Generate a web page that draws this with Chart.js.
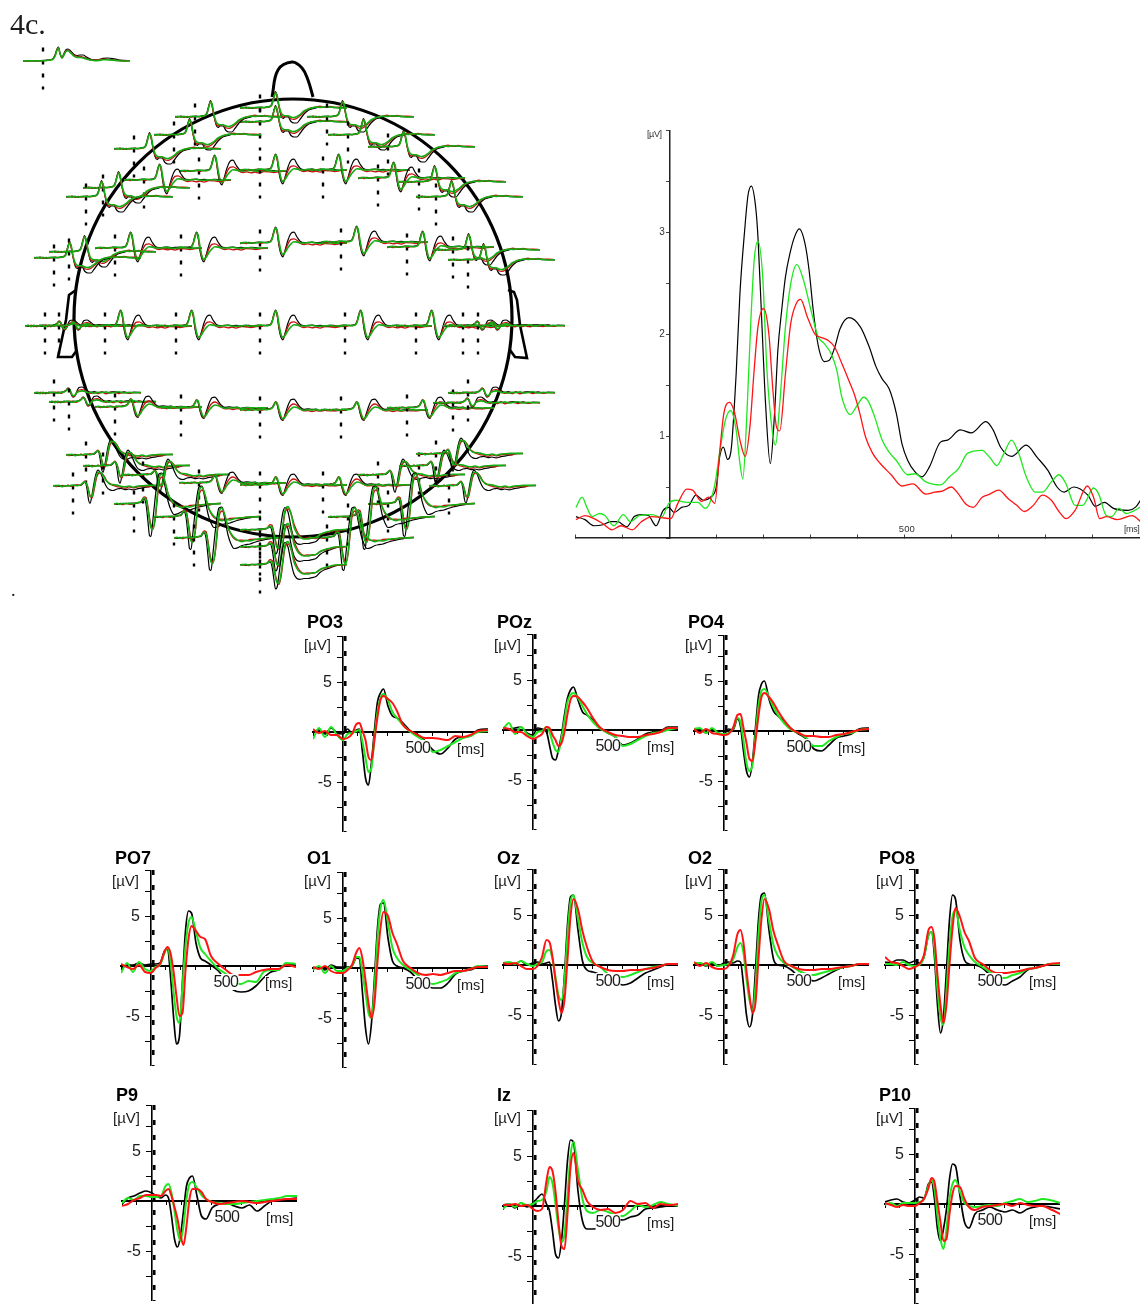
<!DOCTYPE html>
<html>
<head>
<meta charset="utf-8">
<title>4c</title>
<script src="https://cdn.jsdelivr.net/npm/chart.js@4/dist/chart.umd.min.js"></script>
<style>
html, body { margin: 0; padding: 0; background: #fff; }
#page { position: relative; width: 1140px; height: 1304px; overflow: hidden; font-family: "Liberation Sans", Arial, sans-serif; color: #1c1c1c; }
canvas { position: absolute; }
.txt { position: absolute; white-space: nowrap; line-height: 1; }
</style>
</head>
<body>
<div id="page"></div>
<script>
const bigBlackT = [-198,-179,-160,-141,-125,-110,-91,-75,-60,-45,-29,-14,-2,9,25,40,55,71,86,98,105,113,122,130,140,148,158,165,172,181,186,194,202,212,221,228,236,244,254,263,273,286,294,302,309,317,326,336,348,359,378,402,421,435,448,463,478,490,502,517,532,548,571,586,613,636,667,682,698,721,752,775,798,817,832,852,882,898,917,936,967,982,996];
const bigBlackV = [.21,.18,.12,.13,.16,.16,.11,.21,.23,.22,.12,.27,.30,.25,.30,.32,.42,.37,.40,.50,.79,.89,.77,.89,1.61,2.40,3.02,3.36,3.45,3.25,2.95,2.13,1.32,.73,1.22,1.84,2.23,2.56,2.80,2.95,3.03,2.87,2.62,2.26,2.00,1.81,1.73,1.74,1.87,2.05,2.16,2.07,1.87,1.68,1.56,1.46,1.22,.92,.76,.65,.60,.70,.94,.96,1.06,1.03,1.14,1.06,.89,.80,.91,.79,.66,.50,.45,.50,.42,.31,.35,.29,.27,.30,.39];
const bigGreenT = [-198,-185,-175,-164,-148,-137,-118,-98,-83,-64,-37,-18,-2,13,36,59,75,94,105,117,128,140,148,154,162,171,178,186,196,205,217,223,232,244,255,268,282,298,313,325,340,352,363,381,394,409,419,432,448,463,478,502,517,540,571,590,609,628,659,675,690,705,721,736,752,771,786,805,821,836,855,871,894,905,921,932,948,963,996];
const bigGreenV = [.30,.40,.30,.21,.24,.22,.12,.23,.16,.22,.23,.20,.34,.37,.35,.35,.29,.50,.83,1.15,1.25,1.06,.73,.58,1.15,2.13,2.72,2.91,2.56,1.64,1.02,.91,1.32,2.07,2.49,2.68,2.53,2.23,1.97,1.91,1.81,1.65,1.38,1.21,1.29,1.38,1.34,1.19,.96,.84,.76,.62,.63,.55,.52,.60,.68,.83,.86,.79,.71,.83,.96,.83,.60,.45,.45,.55,.62,.53,.32,.32,.49,.43,.22,.21,.29,.24,.31];
const bigRedT = [-198,-179,-160,-141,-122,-103,-79,-60,-37,-18,2,17,36,48,67,82,95,105,114,126,136,148,159,169,178,186,198,209,217,225,232,244,255,267,276,290,306,317,333,348,363,379,390,401,413,428,444,467,490,513,540,559,575,594,606,625,640,659,675,694,713,732,748,767,786,805,821,836,855,881,894,907,921,944,975,996];
const bigRedV = [.18,.22,.19,.14,.08,.12,.08,.16,.21,.20,.19,.34,.48,.47,.36,.40,.34,.83,1.22,1.33,1.24,.96,.80,1.09,1.65,2.07,2.25,2.00,1.48,1.09,1.05,1.61,2.10,2.30,2.34,2.17,2.00,1.97,1.94,1.87,1.71,1.53,1.40,1.22,.99,.83,.73,.62,.51,.53,.43,.45,.46,.50,.45,.33,.30,.40,.43,.47,.39,.32,.26,.32,.42,.37,.26,.19,.27,.51,.40,.19,.21,.18,.22,.15];
const bigYLabels = [1, 2, 3];

// single channel panels, all share one time base
const panelTimes = [-200,-160,-120,-80,-40,0,30,60,90,110,130,150,170,190,210,230,250,270,300,330,360,400,450,500,550,600,650,700,750,800,850,900,970];
const panelYLabels = [5, -5];
const po3Black = [0,.2,-.2,.4,-.1,-.2,.3,-.1,.2,.3,-2,-4.6,-5.3,-3,.2,3,3.9,4.3,2.6,1.6,1.4,.9,.1,-.3,-.9,-1.8,-2.2,-1.6,-.7,-.5,-.4,.2,.3];
const po3Green = [-.7,.4,-.5,.5,-.3,-.8,-.2,-.1,.1,.2,-1,-2.6,-4,-3.6,-.5,2,3.4,3.8,3.2,2,1.4,.7,0,-.5,-1,-2,-1.8,-1.4,-1,-.6,-.4,0,.1];
const po3Red = [.3,-.1,.1,-.3,-.3,-.7,-.6,-.2,.8,.9,.1,-.8,-2.5,-2.8,-.8,1.5,3.2,3.6,3.3,2.9,2.1,.7,.1,-.3,-.6,-.6,-.7,-.8,-.4,-.5,-.3,.1,.2];
const pozBlack = [.2,.1,.2,.3,-.3,-.5,.2,.1,-.2,-1.5,-2.8,-3,-2,-.5,1.5,3.2,4,4.3,3,1.8,1.5,1,.2,-.3,-.7,-1.5,-1.3,-.9,-.4,-.2,-.1,.3,.3];
const pozGreen = [.1,.7,-.4,.3,-.4,-.7,-.2,-.1,.3,-.2,-1.2,-2,-2.2,-.8,1,2.8,3.5,3.7,3.2,2.4,1.6,.8,.1,-.3,-.7,-1.6,-1.4,-1,-.6,-.3,-.2,0,.2];
const pozRed = [.2,.1,-.2,-.2,-.6,-.9,-.7,-.4,.3,.2,-.5,-1,-1.6,-1.3,-.2,1.6,3,3.4,3.3,2.8,2.2,1.2,.2,-.2,-.5,-.6,-.7,-.7,-.5,-.4,-.2,.2,.2];
const po4Black = [.1,.2,-.2,.2,-.2,-.3,.2,.1,1.2,.5,-2,-4,-4.6,-3,.3,3.5,4.7,5,3.2,2,1.5,1,.2,-.3,-.8,-1.8,-2,-1.4,-.7,-.5,-.3,.2,.3];
const po4Green = [.2,.3,-.2,.3,-.2,-.3,-.2,.2,1.3,.9,-1,-3.2,-4,-3.4,-.4,2.5,4,4.2,3.4,2.4,1.6,.8,.1,-.2,-.7,-1.5,-1.5,-1,-.6,-.3,-.2,.1,.2];
const po4Red = [.2,-.2,.2,-.2,-.3,-.4,-.3,.3,1.6,1.7,.3,-1.2,-2.8,-3,-1,1.5,3.4,3.8,3.4,2.8,2,1.1,.2,-.2,-.5,-.5,-.6,-.6,-.4,-.3,-.1,.1,.2];
const po7Black = [-.3,.1,.1,.3,.1,.2,.2,.3,1.5,1.8,-1,-5,-7.8,-7,-1.5,3.5,5.5,5.3,2.3,.8,.5,.1,-.5,-1.5,-2.4,-2.6,-2.5,-2,-1.2,-.6,-.4,.1,.2];
const po7Green = [-.7,.3,-.6,.4,-.3,-.5,-.1,.1,1.3,1.8,.5,-2.5,-5,-5.7,-2,2,4.3,4.9,3.4,1.8,1.2,.5,-.3,-.8,-1.7,-1.8,-1.5,-1.6,-.6,-.4,-.4,.3,.2];
const po7Red = [.2,-.1,-.3,.1,-.6,-.7,-.2,.2,1.4,1.9,1.3,-.5,-3,-5,-4.7,-.5,2.7,4,3.5,2.9,2.7,1,.2,-.4,-.9,-.9,-.9,-.6,-.4,-.3,-.3,.1,-.1];
const o1Black = [0,.1,-.2,.3,.1,.1,.1,.2,1,.9,-2.5,-6,-7.6,-5.5,-1,4,6.4,6.5,3,.7,.2,0,-.4,-1.2,-1.7,-2,-2,-1.5,-.6,-.3,-.2,.1,.2];
const o1Green = [-.2,.2,-.5,.2,-.3,-.3,0,.2,1.1,1.1,-.5,-2.5,-4.5,-5,-2,3,6,6.8,4.5,2,1,.3,-.2,-.7,-1.4,-1.6,-1.4,-1.1,-.5,-.3,-.1,.2,.1];
const o1Red = [.1,-.1,.2,-.3,-.5,-.5,-.2,.3,1.6,2,.9,-1.2,-3.5,-5,-3.5,.6,4,5.6,5.2,3.5,2.4,.7,0,-.5,-.7,-.6,-.7,-.5,-.3,-.3,-.1,.1,.1];
const ozBlack = [.1,.1,.1,.4,0,.2,.3,.1,.2,.3,-1.5,-4,-5.6,-4.8,-1,4,6.8,7,3.5,.4,-.5,-.7,-1,-2,-1.8,-2,-1.8,-1.3,-.8,-.5,-.2,.1,.1];
const ozGreen = [.2,.3,.1,.4,.1,-.1,.1,.3,1.4,1.5,.6,-1.2,-3,-3.5,-1.6,3,6.3,7,4.6,2.2,.8,.2,-.2,-.9,-1.1,-1.2,-1,-.7,-.4,-.2,-.1,.1,.1];
const ozRed = [.2,.1,.2,-.1,-.4,-.4,-.1,.8,2.5,2.3,.8,-1.5,-3.5,-4.8,-3.5,.5,4.8,6.6,5.6,3.4,1.8,.3,-.2,-.5,-.6,-.6,-.5,-.5,-.4,-.3,-.1,.1,.1];
const o2Black = [.1,.2,-.1,.2,-.1,.2,.3,.2,.4,.3,-2,-5,-6.2,-5,-.5,4.5,7,7.2,3.5,.6,0,-.1,-.5,-1.2,-1.4,-1.6,-1.3,-.9,-.5,-.2,-.1,.1,.1];
const o2Green = [.2,.2,0,.3,-.1,0,.1,.5,1.8,2.2,1.2,-1.4,-3.5,-4.5,-2,3,6.4,7,4.4,2,.9,.2,-.1,-.6,-.9,-1,-.8,-.6,-.4,-.2,-.1,.1,.1];
const o2Red = [.3,-.1,.2,-.2,-.4,-.4,-.1,.9,3.1,3.5,2.2,-.6,-3,-4.8,-3.8,.6,4.6,6.6,5.6,3.4,2,.4,-.1,-.4,-.5,-.5,-.4,-.4,-.3,-.2,-.1,.1,.1];
const po8Black = [.3,.2,.5,.5,.2,.4,.2,.8,3,3.3,.8,-4,-6.8,-5.2,-.5,4.5,7,6.6,2.5,.5,.1,0,-.3,-1,-1.8,-2,-1.6,-1.2,-.5,-.3,-.1,.1,.1];
const po8Green = [.1,.1,0,.3,0,-.1,0,.8,3,3.3,1.6,-2.5,-5.2,-6,-2.5,2,4.8,5.5,3.4,1.8,1,.3,-.2,-.7,-1.2,-1.3,-1,-.8,-.4,-.3,-.1,.1,.1];
const po8Red = [.8,.3,.2,-.1,-.4,-.2,.1,1,3.5,3.8,2.6,-1,-4,-5.8,-4,0,3.6,5.7,4.8,3.3,2.4,.7,.1,-.5,-.8,-.8,-.7,-.6,-.4,-.3,-.1,.1,.2];
const p9Black = [-.3,.3,.5,.8,1,.8,.5,.3,.6,.3,-1.5,-3.8,-4.6,-3.5,-1,1.5,2.3,2.5,.5,-1.5,-1.8,-.7,-.3,-.2,-.5,-.7,-.4,-1,-.5,0,.1,.2,.3];
const p9Green = [-.2,.3,.1,.5,.5,.4,.4,.5,1.5,1.7,.8,-1,-3,-4,-2.5,.2,1.7,1.9,1.3,.6,.2,-.1,-.2,-.3,-.3,-.2,-.1,0,.1,.2,.3,.5,.5];
const p9Red = [-.5,-.3,.1,.3,.6,.6,.6,.5,1,1.2,.5,-.6,-1.8,-3.4,-4.4,-2.5,.2,1.2,1.2,.9,.2,-.1,-.3,-.2,-.1,0,-.1,-.2,-.1,0,.1,.2,.2];
const izBlack = [.1,.2,-.2,.3,-.1,.3,.8,1.2,.2,-.5,-2.5,-4.8,-5.2,-3.5,.2,4.5,6.6,6.4,1.5,-1.5,-2.3,-2.3,-2.2,-1.8,-1.3,-1.4,-1.1,-.9,-.3,-.2,-.1,0,.1];
const izGreen = [-.3,.2,-.1,.3,.1,.2,.5,.6,1.5,2.9,2.3,.2,-2.2,-3.6,-2.8,1,5,6.4,3.6,.7,-.5,-.7,-.4,-.6,-.9,-1,-.5,.1,-.1,.1,.4,.2,0];
const izRed = [.1,.1,.2,0,.1,-.3,-.5,-.3,2.5,3.9,3.5,1.5,-1.6,-4,-4.3,-.8,3.8,5.3,2.5,1.6,.5,-.1,-.4,-.3,-.7,-.4,.5,.2,.3,-.2,.2,.1,.2];
const p10Black = [.2,.4,.5,.2,.1,.4,.7,.6,2,2.2,.5,-2.5,-3.7,-2.5,-.5,2.5,4,3.8,.8,-1.8,-2.4,-1,-.6,-.3,-.6,-.8,-.6,-.9,-.5,-.3,-.2,-.3,-.5];
const p10Green = [-.1,.1,-.2,.1,.1,.1,.2,.5,1.8,2.4,1.5,-1.2,-3.5,-4.5,-2.5,.5,2,2.4,1.2,.1,-.2,-.3,-.2,-.1,-.2,.1,.3,.5,.2,.3,.5,.4,.1];
const p10Red = [.1,-.1,-.3,-.1,-.2,-.2,.1,.5,1.6,2.6,2.2,.2,-1.8,-3.7,-3.5,-1,1,1.8,1.7,.5,-.3,-.6,-.3,-.2,-.1,0,-.2,.1,-.1,-.2,-.2,-.5,-1];

// head map: one representative shape per scalp region
const miniTimes = [-200,-170,-140,-110,-80,-50,-20,10,40,70,100,120,140,155,170,190,210,230,250,280,310,340,370,400,440,480,520,560,600,650,700,750,800,870];
const eogBlack = [.1,0,.1,0,.1,0,.1,.2,.3,.4,.8,2,4,4.6,2.5,1.2,2.5,3.8,4,3.2,2.2,1.8,2,2,1.2,.6,.4,.4,.9,1,.8,.4,.2,.1];
const eogGreen = [0,.1,0,.1,0,.1,0,.1,.2,.3,.6,1.6,3.6,4.4,2.6,1,2,3.2,3.4,2.6,1.6,1.2,1.2,1,.6,.3,.1,.2,.4,.4,.3,.1,0,0];
const eogRed = [.1,0,0,.1,0,0,.1,.1,.2,.4,.7,1.8,3.8,4.4,2.4,1,2.2,3.4,3.6,2.8,2,1.5,1.5,1.3,.8,.4,.3,.5,.6,.5,.4,.2,0,.1];
const frontBlack = [.2,0,.3,.1,-.1,.2,.1,.3,.1,.4,.6,1.5,4,5.5,4,.5,-2.5,-3.5,-3,-3,-4.5,-5,-5,-3.8,-2,-.8,-.3,0,.4,.2,.3,.1,.1,0];
const frontGreen = [0,.2,-.1,.2,0,.1,.3,.1,.2,.3,.5,1.2,3.6,5,4.4,.8,-1.5,-2.4,-2.6,-2.6,-3,-3.2,-2.8,-2.2,-1,-.3,0,.3,.2,.4,.3,.2,0,.1];
const frontRed = [-.1,.1,.2,-.1,.2,0,.1,.2,.1,.2,.4,1.2,3.8,5.2,3.8,.2,-2.2,-3,-2.8,-2.6,-3.6,-3.8,-3.4,-2.6,-1.4,-.5,.1,.3,.6,.2,.5,.2,.3,.1];
const centBlack = [-.2,0,.1,.2,-.1,.1,.3,.2,.1,.3,.5,1.5,4,5.3,4,-1,-3.8,-4.6,-2.5,1,3.2,3.6,2,.6,.1,.2,.3,.1,.2,0,.2,.1,-.1,.1];
const centGreen = [0,.1,.2,-.1,.1,0,.2,.3,.2,.1,.3,1.2,3.6,5,4.4,.5,-2.8,-3.8,-3.2,-1.5,-.3,.4,.3,.1,0,.1,.2,0,-.1,.1,.1,-.1,0,.1];
const centRed = [-.1,.2,-.2,.1,-.1,.2,.1,-.1,.2,.1,.4,1.4,4,5,3.6,-.2,-3,-4,-2.8,-.2,1.2,1.4,.9,-.1,-.5,-.3,-.6,-.4,-.7,-.2,-.3,-.5,-.2,-.1];
const edgeBlack = [.2,-.1,.2,.1,-.2,.3,.1,-.1,.3,.1,.5,.9,1.6,1.3,-.3,-1.4,-1,.7,1.8,2,1.4,.6,.2,.5,.1,.4,-.1,.3,.5,.1,.4,0,.3,.1];
const edgeGreen = [0,.2,-.2,.2,0,.1,.3,.1,-.1,.3,.3,.7,1.3,1.2,.2,-.9,-.7,.2,.5,.7,.5,.1,.3,-.1,.2,.1,.4,0,.2,.4,0,.2,.1,.2];
const edgeRed = [-.1,.2,.1,-.2,.2,-.1,.1,.3,.1,-.1,.4,.8,1.5,1.3,0,-1.2,-.9,.4,1,1.1,.8,.2,-.1,.2,-.2,.3,-.3,.1,.2,-.2,.2,-.1,.1,0];
const parBlack = [.2,.1,-.1,.2,0,.3,.1,.2,.1,.3,.5,.8,1.8,2.6,2,-1,-3,-3.5,-1.5,1.5,3.4,3.6,2.4,1,.2,.4,.2,.3,-.1,.2,.1,-.2,0,.1];
const parGreen = [0,.2,.1,-.1,.2,.1,0,.2,.3,.1,.3,.6,1.6,2.6,2.4,.2,-2,-3,-2.4,-.8,.4,1,.8,.3,-.1,.1,0,.2,-.2,.1,.1,0,.1,0];
const parRed = [-.1,.1,-.2,.2,-.1,.1,.2,-.1,.2,.2,.4,.7,1.8,2.8,2.2,-.4,-2.4,-3.2,-2,.2,1.6,2,1.5,.4,-.3,-.2,-.5,-.2,-.4,-.1,-.3,-.3,-.1,0];
const latBlack = [.1,.2,-.1,.2,0,.2,.1,.2,.3,.2,.8,1.5,-1,-4.5,-5.8,-3,1,4,5.3,4,1.5,-.5,-1.3,-1.5,-1,-.8,-1.2,-1,-1.3,-.9,-.6,-.3,.1,.1];
const latGreen = [0,.1,.2,-.2,.1,0,.2,.3,.1,.3,1,1.4,.3,-1.6,-3.5,-3.4,-.5,3,4.6,4.4,3,1.5,.6,.5,.3,-.1,-.3,0,-.4,0,.1,.2,.2,.2];
const latRed = [.2,-.2,.1,.1,-.1,.3,-.1,.1,.4,.2,1,1.6,.5,-1.2,-3.2,-4,-1.5,2,4,4.4,3.4,1.6,.8,.2,-.2,-.4,-.8,-.3,-.6,-.3,-.1,-.3,.1,.2];
const occBlack = [.1,-.1,.2,.1,.2,.1,.3,.2,.4,.5,1.8,0,-6,-10.5,-10.8,-5,1.5,7,10,10.3,6,1,-2,-3.5,-3.2,-2.5,-2.2,-2,-1.5,-1,-.6,-.3,0,.1];
const occGreen = [0,.2,-.1,.2,.1,.3,.1,.2,.5,.8,2,1.5,-2,-5.5,-8,-8.5,-5,2,8.5,10,7.5,3.5,1.5,.2,-.8,-1.2,-.8,-1,-.6,-.3,-.2,.1,0,.2];
const occRed = [-.1,.1,0,-.2,.2,0,-.1,.3,.4,.8,2.4,2.2,-1,-4.5,-7,-8,-5.5,.5,7,9,7.2,3.5,1.2,-.2,-.8,-.7,-.9,-.5,-.4,-.6,-.2,0,.1,.2];
const midBlack = [.1,.2,-.1,.1,.2,.1,.3,.4,.3,.5,1,-.5,-5,-8,-7.5,-3,2,6,7.5,6,1,-3,-4.5,-4.8,-4.5,-4.5,-4.2,-3.8,-2.5,-1.5,-1,-.3,0,.1];
const midGreen = [0,.1,.2,0,.1,.2,.1,.2,.4,.6,1.2,1,-1.5,-4,-6,-6,-3,2,6.5,7.8,5.5,1,-1.2,-2.4,-3,-3,-2.6,-2.5,-1.5,-.8,-.4,0,.1,.2];
const midRed = [.1,-.1,.1,-.2,.2,0,.2,.1,.3,.6,1.8,1.6,-1,-3.5,-5.5,-6.5,-4,1,5.8,7,5.5,2,-.4,-2,-2.8,-2.6,-2.8,-2.5,-1.6,-1,-.6,-.2,0,.1];

// nose and ears of the head drawing
const noseX = [272,278,292,302,308,313];
const noseY = [97,70,62,68,80,97];
const earLeftX = [76,69,66,58,72,77];
const earLeftY = [290,295,320,357,357,350];
const earRightX = [508,514,517,520,527,515,510];
const earRightY = [290,292,300,325,358,357,350];
const headCentre = [{ x: 293, y: 318 }];

const BLACK = '#000';
const GREEN = '#1fe81f';
const RED = '#ff1414';
const MINI_GREEN = '#12ad12';
const MINI_RED = '#c80f0f';

Chart.defaults.animation = false;
Chart.defaults.responsive = false;
Chart.defaults.maintainAspectRatio = false;
Chart.defaults.font.family = '"Liberation Sans", Arial, sans-serif';
Chart.defaults.layout.autoPadding = false;
Chart.defaults.plugins.legend.display = false;
Chart.defaults.plugins.tooltip.enabled = false;
Chart.defaults.elements.point.radius = 0;

const page = document.getElementById('page');

function addCanvas(left, top, w, h) {
    const c = document.createElement('canvas');
    c.width = w;
    c.height = h;
    c.style.left = left + 'px';
    c.style.top = top + 'px';
    page.appendChild(c);
    return c.getContext('2d');
}

function addText(str, left, top, size, extra) {
    const d = document.createElement('div');
    d.className = 'txt';
    d.textContent = str;
    d.style.left = left + 'px';
    d.style.top = top + 'px';
    d.style.fontSize = size + 'px';
    Object.assign(d.style, extra || {});
    page.appendChild(d);
    return d;
}

function points(times, values) {
    return times.map((t, i) => ({ x: t, y: values[i] }));
}

function trace(times, values, color, width) {
    return {
        data: points(times, values),
        borderColor: color,
        borderWidth: width,
        cubicInterpolationMode: 'monotone',
        fill: false
    };
}

// ---- head outline ----
new Chart(addCanvas(0, 0, 600, 600), {
    type: 'scatter',
    data: {
        datasets: [
            { data: headCentre, pointRadius: 219, borderColor: BLACK, backgroundColor: 'rgba(0,0,0,0)', borderWidth: 3.2, clip: false },
            { data: points(noseX, noseY), showLine: true, tension: 0.4, borderColor: BLACK, borderWidth: 3 },
            { data: points(earLeftX, earLeftY), showLine: true, borderColor: BLACK, borderWidth: 2.6 },
            { data: points(earRightX, earRightY), showLine: true, borderColor: BLACK, borderWidth: 2.6 }
        ]
    },
    options: {
        layout: { padding: 0 },
        scales: {
            x: { display: false, min: 0, max: 600 },
            y: { display: false, min: 0, max: 600, reverse: true }
        }
    }
});

// ---- electrodes on the head: [marker x, baseline y, region] ----
const regions = {
    eog: [eogBlack, eogGreen, eogRed],
    front: [frontBlack, frontGreen, frontRed],
    cent: [centBlack, centGreen, centRed],
    edge: [edgeBlack, edgeGreen, edgeRed],
    par: [parBlack, parGreen, parRed],
    lat: [latBlack, latGreen, latRed],
    occ: [occBlack, occGreen, occRed],
    mid: [midBlack, midGreen, midRed]
};
const electrodes = [
    [42, 61, 'eog'],
    [259, 108, 'front'], [259, 122, 'front'], [194, 117, 'front'], [326, 117, 'front'],
    [173, 135, 'front'], [347, 135, 'front'], [133, 149, 'front'], [387, 147, 'front'],
    [198, 171, 'cent'], [259, 170, 'cent'], [322, 170, 'cent'], [143, 180, 'cent'], [377, 178, 'cent'],
    [418, 182, 'front'], [102, 188, 'front'], [85, 197, 'front'], [435, 197, 'front'],
    [259, 243, 'cent'], [180, 248, 'cent'], [114, 248, 'cent'], [340, 242, 'cent'], [406, 247, 'cent'],
    [68, 252, 'front'], [53, 258, 'front'], [452, 250, 'front'], [467, 260, 'front'],
    [44, 326, 'edge'], [58, 326, 'edge'], [104, 326, 'cent'], [175, 326, 'cent'], [259, 326, 'cent'],
    [344, 326, 'cent'], [415, 326, 'cent'], [462, 326, 'edge'], [477, 326, 'edge'],
    [53, 393, 'edge'], [68, 402, 'edge'], [114, 407, 'par'], [180, 408, 'par'], [259, 410, 'par'],
    [340, 410, 'par'], [406, 408, 'par'], [452, 403, 'edge'], [467, 393, 'edge'],
    [85, 455, 'lat'], [102, 466, 'lat'], [72, 486, 'lat'], [142, 475, 'lat'], [198, 483, 'par'], [259, 485, 'par'],
    [322, 485, 'par'], [377, 475, 'lat'], [418, 466, 'lat'], [435, 454, 'lat'], [448, 486, 'lat'],
    [133, 504, 'occ'], [387, 504, 'occ'], [173, 517, 'occ'], [347, 517, 'occ'], [193, 538, 'occ'], [326, 538, 'occ'],
    [259, 530, 'mid'], [259, 547, 'mid'], [259, 565, 'mid']
];
const markerTimes = [0, 0];
const miniMarker = [4.5, -9.5];

electrodes.forEach(([x0, y0, region]) => {
    const [black, green, red] = regions[region];
    new Chart(addCanvas(x0 - 19, y0 - 60, 107, 120), {
        type: 'line',
        data: {
            datasets: [
                trace(miniTimes, green, MINI_GREEN, 1.6),
                trace(miniTimes, red, MINI_RED, 1.3),
                trace(miniTimes, black, BLACK, 1.2),
                { data: points(markerTimes, miniMarker), borderColor: BLACK, borderWidth: 2.4, borderDash: [4, 9] }
            ]
        },
        options: {
            layout: { padding: 0 },
            scales: {
                x: { type: 'linear', display: false, min: -200, max: 870 },
                y: { display: false, min: -20, max: 20 }
            }
        }
    });
});

// ---- big trace, upper right ----
const bigChart = new Chart(addCanvas(575, 130, 565, 411), {
    type: 'line',
    data: {
        datasets: [
            trace(bigRedT, bigRedV, RED, 1.3),
            trace(bigGreenT, bigGreenV, GREEN, 1.3),
            trace(bigBlackT, bigBlackV, BLACK, 1.2)
        ]
    },
    options: {
        layout: { padding: { bottom: 3 } },
        scales: {
            x: {
                type: 'linear', min: -200, max: 992, position: { y: 0 },
                border: { color: '#222', width: 1.5 },
                grid: { drawOnChartArea: false, tickLength: -4, color: '#444' },
                ticks: { display: false, stepSize: 100, autoSkip: false, maxRotation: 0 }
            },
            y: {
                min: 0, max: 4, position: { x: 0 },
                border: { color: '#222', width: 1.5 },
                grid: { drawOnChartArea: false, tickLength: 3, color: '#444' },
                ticks: { display: false, stepSize: 0.5, autoSkip: false }
            }
        }
    }
});
// labels sit at the library's own pixel positions, the axis cannot offset them this far
bigYLabels.forEach(v => {
    addText(String(v), 575 + bigChart.scales.x.getPixelForValue(0) - 5, 130 + bigChart.scales.y.getPixelForValue(v), 10,
        { transform: 'translate(-100%,-50%)', color: '#333' });
});
addText('500', 575 + bigChart.scales.x.getPixelForValue(500), 529, 9.5, { transform: 'translate(-50%,-50%)', color: '#333' });
addText('[µV]', 647, 130, 9, { color: '#333', letterSpacing: '-0.4px' });
addText('[ms]', 1124, 525, 9, { color: '#333', letterSpacing: '-0.4px' });

// ---- channel panels ----
const panels = [
    { name: 'PO3', axisX: 343, zeroY: 732, titleY: 622, black: po3Black, green: po3Green, red: po3Red },
    { name: 'POz', axisX: 533, zeroY: 730, titleY: 622, black: pozBlack, green: pozGreen, red: pozRed },
    { name: 'PO4', axisX: 724, zeroY: 731, titleY: 622, black: po4Black, green: po4Green, red: po4Red },
    { name: 'PO7', axisX: 151, zeroY: 966, titleY: 858, black: po7Black, green: po7Green, red: po7Red },
    { name: 'O1', axisX: 343, zeroY: 968, titleY: 858, black: o1Black, green: o1Green, red: o1Red },
    { name: 'Oz', axisX: 533, zeroY: 965, titleY: 858, black: ozBlack, green: ozGreen, red: ozRed },
    { name: 'O2', axisX: 724, zeroY: 965, titleY: 858, black: o2Black, green: o2Green, red: o2Red },
    { name: 'PO8', axisX: 915, zeroY: 965, titleY: 858, black: po8Black, green: po8Green, red: po8Red },
    { name: 'P9', axisX: 152, zeroY: 1201, titleY: 1095, black: p9Black, green: p9Green, red: p9Red },
    { name: 'Iz', axisX: 533, zeroY: 1206, titleY: 1095, black: izBlack, green: izGreen, red: izRed },
    { name: 'P10', axisX: 915, zeroY: 1204, titleY: 1095, black: p10Black, green: p10Green, red: p10Red }
];
const panelMarkerT = [15, 15];
const panelMarkerV = [9.6, -10];

panels.forEach(p => {
    const left = p.axisX - 31;
    const top = p.zeroY - 96;
    const chart = new Chart(addCanvas(left, top, 176, 196), {
        type: 'line',
        data: {
            datasets: [
                trace(panelTimes, p.red, RED, 2),
                trace(panelTimes, p.green, GREEN, 2),
                trace(panelTimes, p.black, BLACK, 1.7),
                { data: points(panelMarkerT, panelMarkerV), borderColor: BLACK, borderWidth: 2.6, borderDash: [5, 10] }
            ]
        },
        options: {
            layout: { padding: { left: 1 } },
            scales: {
                x: {
                    type: 'linear', min: -200, max: 967, position: { y: 0 },
                    border: { color: BLACK, width: 2 },
                    grid: { drawOnChartArea: false, tickLength: 3, color: BLACK },
                    ticks: { display: false, stepSize: 100, autoSkip: false, maxRotation: 0 }
                },
                y: {
                    min: -10, max: 9.6, position: { x: 0 },
                    border: { color: BLACK, width: 1.6 },
                    grid: { drawOnChartArea: false, tickLength: 5, color: BLACK },
                    ticks: { display: false, stepSize: 2.5, autoSkip: false }
                }
            }
        }
    });
    panelYLabels.forEach(v => {
        addText(String(v), p.axisX - 11, top + chart.scales.y.getPixelForValue(v), 16, { transform: 'translate(-100%,-50%)' });
    });
    // the tick label blanks out the trace behind it, as in the original figure
    addText('500', left + chart.scales.x.getPixelForValue(500), p.zeroY + 16, 16,
        { transform: 'translate(-50%,-50%)', background: '#fff', letterSpacing: '-0.6px' });
    addText(p.name, p.axisX - 36, p.titleY - 9, 18, { fontWeight: 'bold', color: '#000' });
    addText('[µV]', p.axisX - 39, p.titleY + 15, 15);
    addText('[ms]', p.axisX + 114, p.zeroY + 10, 14.5, { background: '#fff' });
});

addText('4c.', 10, 9, 30, { fontFamily: '"Liberation Serif", serif' });
addText('.', 11, 581, 18, { fontFamily: '"Liberation Serif", serif' });
</script>
</body>
</html>
